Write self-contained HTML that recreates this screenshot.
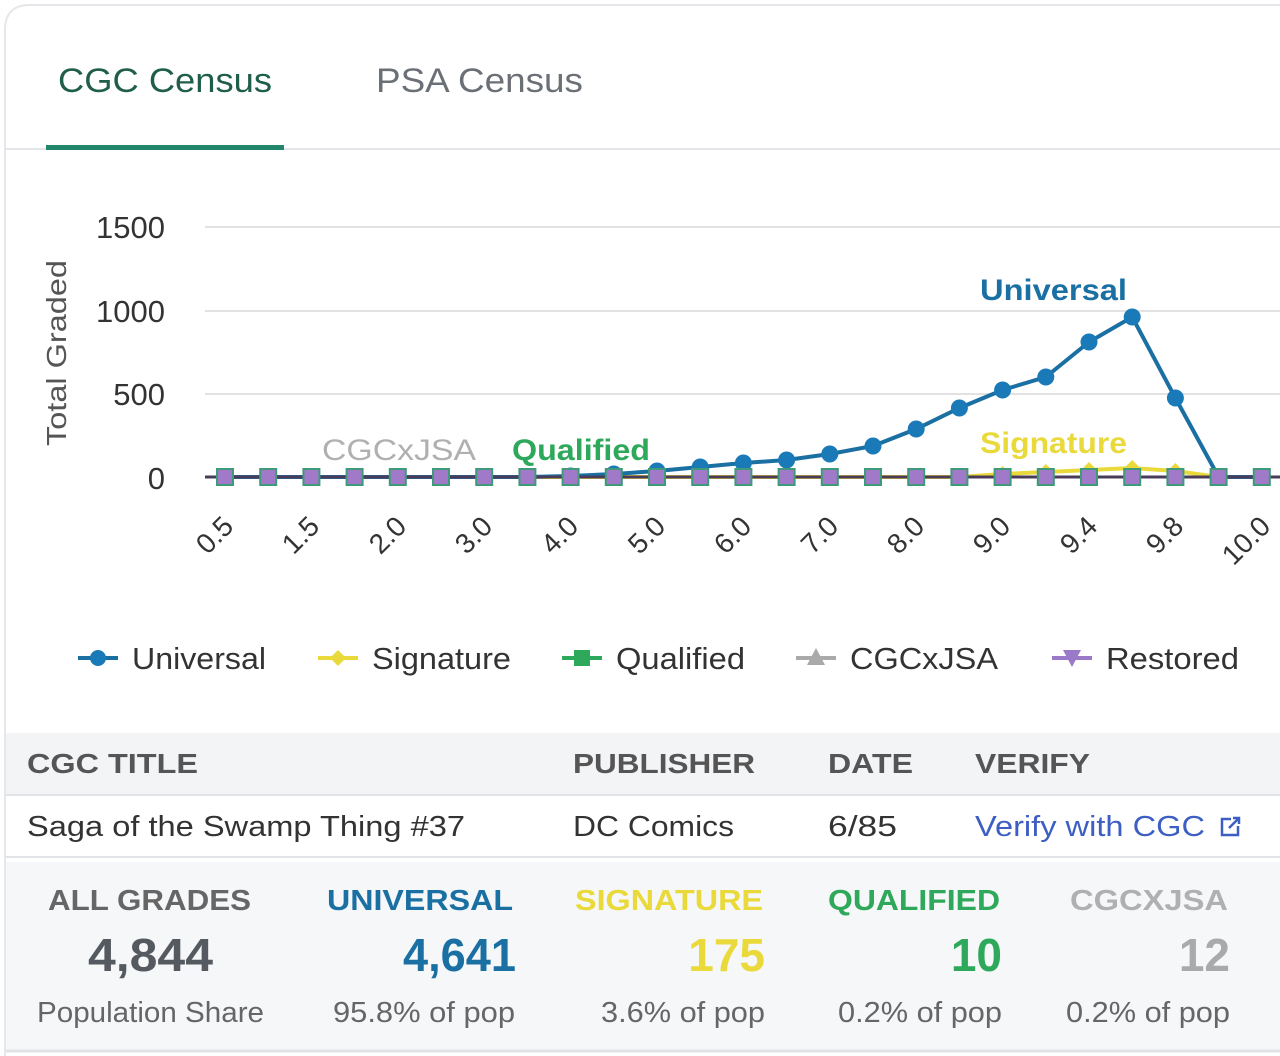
<!DOCTYPE html>
<html><head><meta charset="utf-8"><style>
html,body{margin:0;padding:0;background:#fff;}
svg{display:block;font-family:"Liberation Sans",Arial,sans-serif;}
</style></head><body>
<svg id="s" width="1280" height="1056" viewBox="0 0 1280 1056" xmlns="http://www.w3.org/2000/svg">
<rect x="0" y="0" width="1280" height="1056" fill="#fff"/>
<path d="M5 1056 V30 Q5 5 30 5 H1280" fill="none" stroke="#e6e7ea" stroke-width="2"/>
<text x="58" y="92" font-size="34" fill="#1f5e48" textLength="214" lengthAdjust="spacingAndGlyphs">CGC Census</text>
<text x="376" y="92" font-size="34" fill="#6b6f76" textLength="207" lengthAdjust="spacingAndGlyphs">PSA Census</text>
<line x1="6" y1="149" x2="1280" y2="149" stroke="#e4e5e8" stroke-width="2"/>
<rect x="46" y="145" width="238" height="5" fill="#21866a"/>
<text transform="translate(66,353) rotate(-90)" text-anchor="middle" font-size="28" fill="#555" textLength="186" lengthAdjust="spacingAndGlyphs">Total Graded</text>
<g font-size="31" fill="#333" text-anchor="end">
<text x="165" y="238">1500</text><text x="165" y="322">1000</text><text x="165" y="405">500</text><text x="165" y="489">0</text>
</g>
<g stroke="#e2e2e2" stroke-width="2">
<line x1="205" y1="227" x2="1280" y2="227"/><line x1="205" y1="311" x2="1280" y2="311"/><line x1="205" y1="394" x2="1280" y2="394"/>
</g>
<line x1="205" y1="477" x2="1280" y2="477" stroke="#333" stroke-width="2.5"/>
<g id="series"></g>
<g font-weight="bold" font-size="30">
<text x="980" y="300" fill="#1a6fa3" textLength="147" lengthAdjust="spacingAndGlyphs">Universal</text>
<text x="980" y="453" fill="#e9d93a" textLength="147" lengthAdjust="spacingAndGlyphs">Signature</text>
<text x="512" y="460" fill="#2ea85a" textLength="138" lengthAdjust="spacingAndGlyphs">Qualified</text>
<text x="322" y="460" fill="#b0b0b0" font-weight="normal" textLength="154" lengthAdjust="spacingAndGlyphs">CGCxJSA</text>
</g>
<g font-size="28" fill="#333" text-anchor="end">
<text transform="translate(235,528) rotate(-45)">0.5</text>
<text transform="translate(321,528) rotate(-45)">1.5</text>
<text transform="translate(408,528) rotate(-45)">2.0</text>
<text transform="translate(494,528) rotate(-45)">3.0</text>
<text transform="translate(580,528) rotate(-45)">4.0</text>
<text transform="translate(667,528) rotate(-45)">5.0</text>
<text transform="translate(753,528) rotate(-45)">6.0</text>
<text transform="translate(840,528) rotate(-45)">7.0</text>
<text transform="translate(926,528) rotate(-45)">8.0</text>
<text transform="translate(1012,528) rotate(-45)">9.0</text>
<text transform="translate(1099,528) rotate(-45)">9.4</text>
<text transform="translate(1185,528) rotate(-45)">9.8</text>
<text transform="translate(1272,528) rotate(-45)">10.0</text>
</g>
<g font-size="31" fill="#333">
<line x1="78" y1="658" x2="118" y2="658" stroke="#1a6fa3" stroke-width="4"/><circle cx="98" cy="658" r="8" fill="#1a7ab8"/>
<text x="132" y="669" textLength="134" lengthAdjust="spacingAndGlyphs">Universal</text>
<line x1="318" y1="658" x2="358" y2="658" stroke="#e9d93a" stroke-width="4"/><path d="M338 650 L346 658 L338 666 L330 658Z" fill="#e9d93a"/>
<text x="372" y="669" textLength="139" lengthAdjust="spacingAndGlyphs">Signature</text>
<line x1="562" y1="658" x2="602" y2="658" stroke="#2ea85a" stroke-width="4"/><rect x="574" y="650" width="16" height="16" fill="#2ea85a"/>
<text x="616" y="669" textLength="129" lengthAdjust="spacingAndGlyphs">Qualified</text>
<line x1="796" y1="658" x2="836" y2="658" stroke="#aaa" stroke-width="4"/><path d="M816 648 L825 665 L807 665Z" fill="#aaa"/>
<text x="850" y="669" textLength="148" lengthAdjust="spacingAndGlyphs">CGCxJSA</text>
<line x1="1052" y1="658" x2="1092" y2="658" stroke="#9b79c9" stroke-width="4"/><path d="M1063 650 L1081 650 L1072 667Z" fill="#9b79c9"/>
<text x="1106" y="669" textLength="133" lengthAdjust="spacingAndGlyphs">Restored</text>
</g>
<rect x="6" y="733" width="1274" height="62" fill="#f3f4f6"/>
<line x1="6" y1="795" x2="1280" y2="795" stroke="#e2e3e6" stroke-width="2"/>
<line x1="6" y1="857" x2="1280" y2="857" stroke="#e2e3e6" stroke-width="2"/>
<g font-size="28" font-weight="bold" fill="#555">
<text x="27" y="773" textLength="171" lengthAdjust="spacingAndGlyphs">CGC TITLE</text>
<text x="573" y="773" textLength="182" lengthAdjust="spacingAndGlyphs">PUBLISHER</text>
<text x="828" y="773" textLength="85" lengthAdjust="spacingAndGlyphs">DATE</text>
<text x="975" y="773" textLength="115" lengthAdjust="spacingAndGlyphs">VERIFY</text>
</g>
<g font-size="29" fill="#333">
<text x="27" y="836" textLength="438" lengthAdjust="spacingAndGlyphs">Saga of the Swamp Thing #37</text>
<text x="573" y="836" textLength="161" lengthAdjust="spacingAndGlyphs">DC Comics</text>
<text x="828" y="836" textLength="69" lengthAdjust="spacingAndGlyphs">6/85</text>
<text x="975" y="836" fill="#3d5fc4" textLength="230" lengthAdjust="spacingAndGlyphs">Verify with CGC</text>
</g>
<g fill="none" stroke="#3d5fc4" stroke-width="2.5"><path d="M1231 819 h-9 v16 h16 v-9"/><path d="M1229 828 L1239 818 M1233 818 h6 v6"/></g>
<rect x="6" y="862" width="1274" height="188" fill="#f6f7f9"/>
<line x1="6" y1="1051" x2="1280" y2="1051" stroke="#e2e3e6" stroke-width="3"/>
<g font-size="29" font-weight="bold">
<text x="48" y="910" fill="#666" textLength="203" lengthAdjust="spacingAndGlyphs">ALL GRADES</text>
<text x="513" y="910" text-anchor="end" fill="#1a6fa3" textLength="186" lengthAdjust="spacingAndGlyphs">UNIVERSAL</text>
<text x="763" y="910" text-anchor="end" fill="#e9d93a" textLength="188" lengthAdjust="spacingAndGlyphs">SIGNATURE</text>
<text x="1000" y="910" text-anchor="end" fill="#2ea85a" textLength="172" lengthAdjust="spacingAndGlyphs">QUALIFIED</text>
<text x="1228" y="910" text-anchor="end" fill="#b0b0b0" textLength="158" lengthAdjust="spacingAndGlyphs">CGCXJSA</text>
</g>
<g font-size="46" font-weight="bold">
<text x="88" y="971" fill="#555a60" textLength="125" lengthAdjust="spacingAndGlyphs">4,844</text>
<text x="516" y="971" text-anchor="end" fill="#1a6fa3" textLength="113" lengthAdjust="spacingAndGlyphs">4,641</text>
<text x="765" y="971" text-anchor="end" fill="#e9d93a">175</text>
<text x="1002" y="971" text-anchor="end" fill="#2ea85a">10</text>
<text x="1230" y="971" text-anchor="end" fill="#aaa">12</text>
</g>
<g font-size="29" fill="#666">
<text x="37" y="1022" textLength="227" lengthAdjust="spacingAndGlyphs">Population Share</text>
<text x="515" y="1022" text-anchor="end" textLength="182" lengthAdjust="spacingAndGlyphs">95.8% of pop</text>
<text x="765" y="1022" text-anchor="end" textLength="164" lengthAdjust="spacingAndGlyphs">3.6% of pop</text>
<text x="1002" y="1022" text-anchor="end" textLength="164" lengthAdjust="spacingAndGlyphs">0.2% of pop</text>
<text x="1230" y="1022" text-anchor="end" textLength="164" lengthAdjust="spacingAndGlyphs">0.2% of pop</text>
</g>
</svg>
<script>
var NS="http://www.w3.org/2000/svg",g=document.getElementById("series");
function el(t,a){var e=document.createElementNS(NS,t);for(var k in a)e.setAttribute(k,a[k]);g.appendChild(e);return e;}
var X=[];for(var i=0;i<25;i++)X.push(225+43.2*i);
var U=[477,477,477,477,477,477,477,477,476,474,471,467,463,460,454,446,429,408,390,377,342,317,398,477,477];
var S=[];for(i=0;i<25;i++)S.push(477);S[18]=474;S[19]=472;S[20]=470;S[21]=468;S[22]=471;
function pts(Y){return X.map(function(x,i){return x+","+Y[i]}).join(" ");}
el("polyline",{points:pts(S),fill:"none",stroke:"#e9d93a","stroke-width":4});
for(i=17;i<23;i++)el("path",{d:"M"+X[i]+" "+(S[i]-8)+" l7 7 l-7 7 l-7 -7z",fill:"#e9d93a"});
el("polyline",{points:pts(U),fill:"none",stroke:"#1a6fa3","stroke-width":4});
for(i=0;i<25;i++)el("circle",{cx:X[i],cy:U[i],r:8.5,fill:"#1a7ab8"});
el("line",{x1:205,y1:477,x2:1280,y2:477,stroke:"#4a3b5a","stroke-width":3});
for(i=0;i<25;i++)el("rect",{x:X[i]-8,y:469,width:16,height:16,fill:"#a07ac8",stroke:"#3f9a7a","stroke-width":2});
</script>
</body></html>
